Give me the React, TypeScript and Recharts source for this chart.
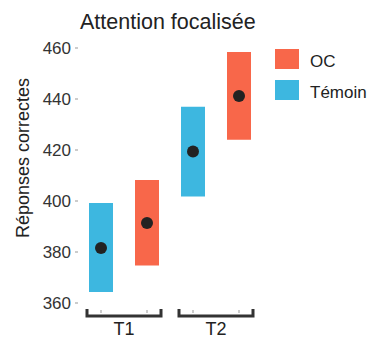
import { ComposedChart, Bar, Line, XAxis, YAxis, Cell } from "recharts";

const categories = ["T1-Témoin", "T1-OC", "T2-Témoin", "T2-OC"];
const groups = ["T1", "T1", "T2", "T2"];
const conditions = ["Témoin", "OC", "Témoin", "OC"];
const lows = [364.3, 374.7, 401.8, 424.0];
const highs = [399.2, 408.2, 437.0, 458.4];
const means = [381.6, 391.4, 419.4, 441.2];
const yTicks = [360, 380, 400, 420, 440, 460];
const legendItems = ["OC", "Témoin"];

const colors: Record<string, string> = { OC: "#F8674A", "Témoin": "#3DB7E0" };
const font = "'Liberation Sans', Arial, sans-serif";

const data = categories.map((c, i) => ({
  name: c,
  group: groups[i],
  cond: conditions[i],
  range: [lows[i], highs[i]],
  mean: means[i],
}));

const DotTick = ({ x, y }: any) => (
  <line x1={x} x2={x} y1={y - 1} y2={y + 2} stroke="#999" strokeWidth={1} />
);

const GroupTick = ({ x, y, payload }: any) => {
  const half = 37;
  const top = y - 6;
  const base = y + 1;
  return (
    <g>
      <path
        d={`M${x - half},${top} L${x - half},${base} L${x + half},${base} L${x + half},${top}`}
        fill="none"
        stroke="#333"
        strokeWidth={3}
      />
      <text x={x} y={y + 20} textAnchor="middle" fontSize={18} fill="#222" fontFamily={font}>
        {payload.value}
      </text>
    </g>
  );
};

const YLabel = () => (
  <text
    x={23}
    y={158}
    transform="rotate(-90 23 158)"
    textAnchor="middle"
    dominantBaseline="central"
    fontSize={18}
    fill="#222"
    fontFamily={font}
  >
    Réponses correctes
  </text>
);

export default function App() {
  return (
    <div style={{ position: "absolute", left: 0, top: 0, width: 374, height: 340, background: "#fff" }}>
      <ComposedChart
        width={374}
        height={340}
        data={data}
        margin={{ top: 48, right: 112, bottom: 0, left: 0 }}
      >
        <XAxis
          dataKey="name"
          height={4}
          axisLine={false}
          tickLine={false}
          tick={<DotTick />}
          interval={0}
        />
        <XAxis
          xAxisId="grp"
          dataKey="group"
          allowDuplicatedCategory={false}
          height={33}
          axisLine={false}
          tickLine={false}
          tick={<GroupTick />}
          interval={0}
        />
        <YAxis
          width={78}
          domain={[360, 460]}
          ticks={yTicks}
          axisLine={false}
          tickSize={3}
          tickMargin={4}
          tickLine={{ stroke: "#999" }}
          tick={{ fontSize: 17, fill: "#333", fontFamily: font }}
          label={<YLabel />}
        />
        <Bar dataKey="range" isAnimationActive={false} barSize={24}>
          {data.map((d) => (
            <Cell key={d.name} fill={colors[d.cond]} />
          ))}
        </Bar>
        <Line
          dataKey="mean"
          stroke="none"
          isAnimationActive={false}
          dot={{ r: 6, fill: "#222", stroke: "none" }}
          activeDot={false}
        />
        <text x={80} y={29} fontSize={21.5} fill="#222" fontFamily={font}>
          Attention focalisée
        </text>
        {legendItems.map((item, i) => (
          <g key={item}>
            <rect x={275} y={49 + i * 31} width={24} height={20} fill={colors[item]} />
            <text x={310} y={67 + i * 31} fontSize={17} fill="#222" fontFamily={font}>
              {item}
            </text>
          </g>
        ))}
      </ComposedChart>
    </div>
  );
}
